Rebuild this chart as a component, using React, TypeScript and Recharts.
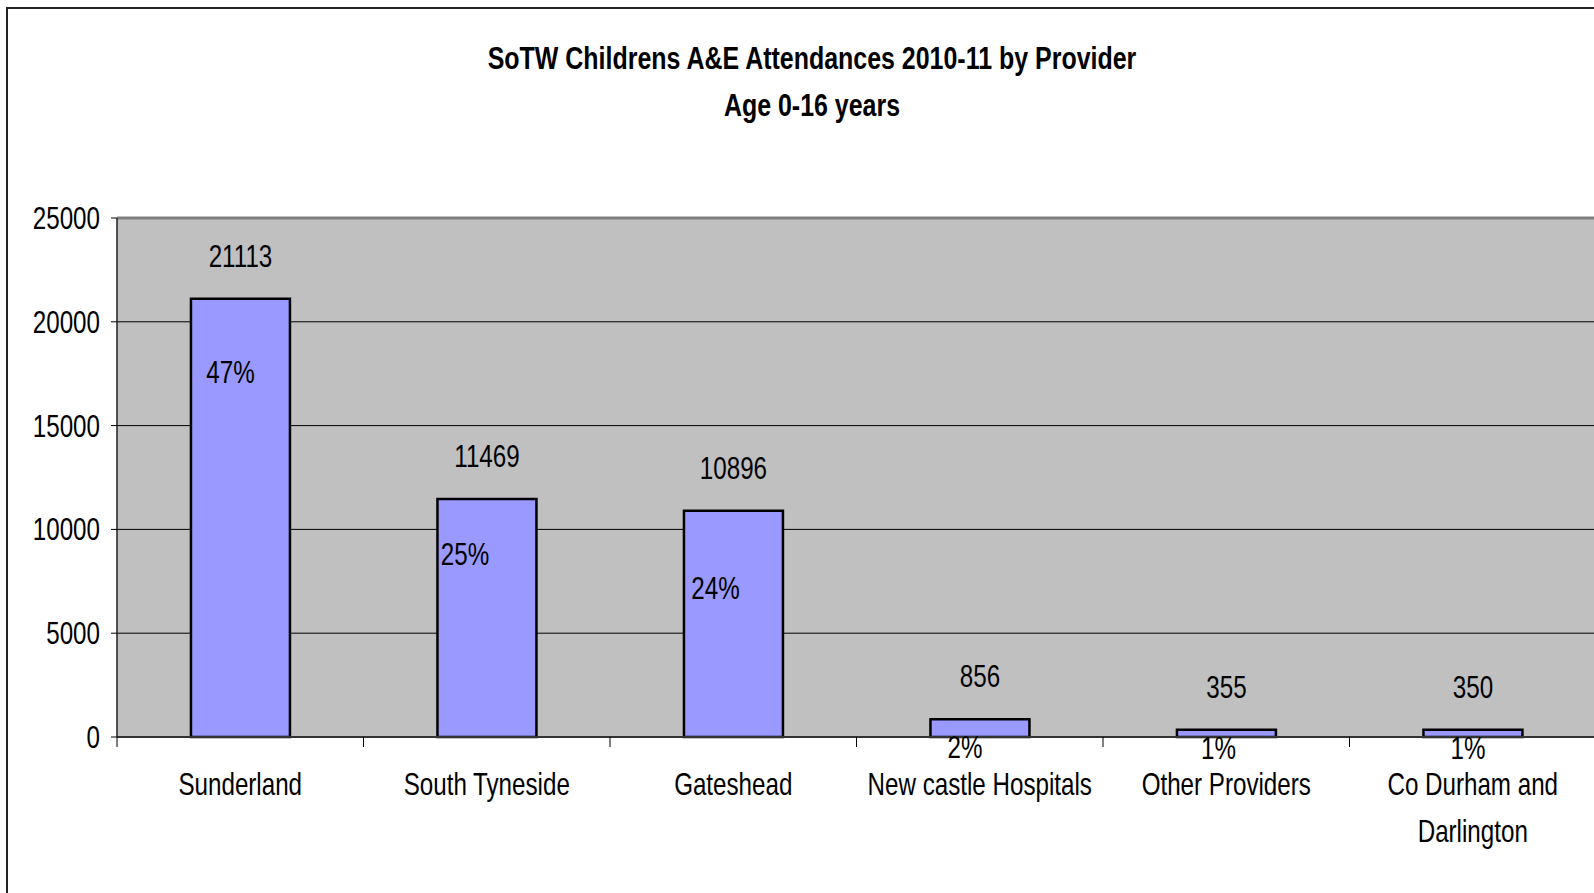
import React from "react";
import { Bar, BarChart, CartesianGrid, LabelList, ReferenceLine, XAxis, YAxis } from "recharts";

const providers = [
	"Sunderland",
	"South Tyneside",
	"Gateshead",
	"New castle Hospitals",
	"Other Providers",
	"Co Durham and Darlington",
];
const attendances = [21113, 11469, 10896, 856, 355, 350];
const shares = ["47%", "25%", "24%", "2%", "1%", "1%"];
const yTicks = [0, 5000, 10000, 15000, 20000, 25000];

// hand placed % labels in the original, offset from bar centre / bar top
const pctNudge: Array<[number, number]> = [
	[-10, 73],
	[-22, 55],
	[-18, 77],
	[-15, 28],
	[-8, 18],
	[-5, 18],
];

// no Arial Narrow here, so squeeze Liberation Sans instead
const FONT = '"Liberation Sans", Arial, sans-serif';
const FS = 31;
const SX = 0.78;
const PLOT_TOP = 218;
const PLOT_BOTTOM = 737;
const PLOT_LEFT = 117;
const PLOT_RIGHT = 1596;
const BAND = (PLOT_RIGHT - PLOT_LEFT) / providers.length;

const rows = providers.map((name, i) => ({ name, value: attendances[i], pct: shares[i] }));

function wrap(label: string, max = 20): string[] {
	const out: string[] = [];
	let cur = "";
	for (const w of label.split(" ")) {
		const next = cur ? cur + " " + w : w;
		if (next.length > max && cur) {
			out.push(cur);
			cur = w;
		} else cur = next;
	}
	if (cur) out.push(cur);
	return out;
}

function Narrow({ x, y, anchor = "middle", children }: any) {
	return (
		<text
			transform={`translate(${x},${y}) scale(${SX},1)`}
			textAnchor={anchor}
			fontFamily={FONT}
			fontSize={FS}
			fill="#000"
		>
			{children}
		</text>
	);
}

function CatTick(props: any) {
	const { x, payload, index } = props;
	const lines = wrap(String(payload.value));
	const left = x - BAND / 2;
	return (
		<g>
			<line x1={left} x2={left} y1={PLOT_BOTTOM} y2={PLOT_BOTTOM + 10} stroke="#000" strokeWidth={1} />
			{index === providers.length - 1 ? (
				<line x1={left + BAND} x2={left + BAND} y1={PLOT_BOTTOM} y2={PLOT_BOTTOM + 10} stroke="#000" />
			) : null}
			{lines.map((l, i) => (
				<Narrow key={i} x={x} y={PLOT_BOTTOM + 58 + i * 47}>
					{l}
				</Narrow>
			))}
		</g>
	);
}

function YTick(props: any) {
	const { y, payload } = props;
	return (
		<Narrow x={100} y={y + 11} anchor="end">
			{payload.value}
		</Narrow>
	);
}

function ValueLabel(props: any) {
	const { x, y, width, value } = props;
	return (
		<Narrow x={x + width / 2} y={y - 32}>
			{value}
		</Narrow>
	);
}

function PctLabel(props: any) {
	const { x, y, width, value, index } = props;
	const [dx, dy] = pctNudge[index] || [0, 0];
	return (
		<Narrow x={x + width / 2 + dx} y={y + dy + 11}>
			{value}
		</Narrow>
	);
}

export default function App() {
	return (
		<div
			style={{
				position: "absolute",
				left: 0,
				top: 0,
				width: 1594,
				height: 893,
				overflow: "hidden",
				background: "#fff",
			}}
		>
			<div
				style={{
					position: "absolute",
					left: 6,
					top: 7,
					width: 1700,
					height: 1000,
					borderLeft: "2px solid #222",
					borderTop: "2px solid #222",
				}}
			/>
			<div
				style={{
					position: "absolute",
					left: 0,
					top: 35,
					width: 1624,
					textAlign: "center",
					fontFamily: FONT,
					fontWeight: 700,
					fontSize: FS,
					lineHeight: "47px",
					color: "#000",
					transform: "scaleX(0.805)",
				}}
			>
				<div>SoTW Childrens A&amp;E Attendances 2010-11 by Provider</div>
				<div>Age 0-16 years</div>
			</div>
			<div style={{ position: "absolute", left: 0, top: 0 }}>
				<BarChart
					width={1600}
					height={893}
					data={rows}
					margin={{ top: PLOT_TOP, right: 1600 - PLOT_RIGHT, bottom: 0, left: 0 }}
					barCategoryGap="30%"
				>
					<CartesianGrid vertical={false} fill="#C0C0C0" stroke="#000" strokeWidth={1} />
					<XAxis
						dataKey="name"
						height={893 - PLOT_BOTTOM}
						interval={0}
						axisLine={{ stroke: "#333", strokeWidth: 2 }}
						tickLine={false}
						tick={<CatTick />}
					/>
					<YAxis
						width={PLOT_LEFT}
						domain={[0, 25000]}
						ticks={yTicks}
						interval={0}
						axisLine={{ stroke: "#222", strokeWidth: 1.5 }}
						tickLine={{ stroke: "#000" }}
						tickSize={6}
						tick={<YTick />}
					/>
					<ReferenceLine y={25000} stroke="#808080" strokeWidth={3} />
					<Bar dataKey="value" fill="#9999FF" stroke="#000" strokeWidth={2.5} isAnimationActive={false}>
						<LabelList dataKey="value" content={ValueLabel} />
						<LabelList dataKey="pct" content={PctLabel} />
					</Bar>
				</BarChart>
			</div>
		</div>
	);
}
